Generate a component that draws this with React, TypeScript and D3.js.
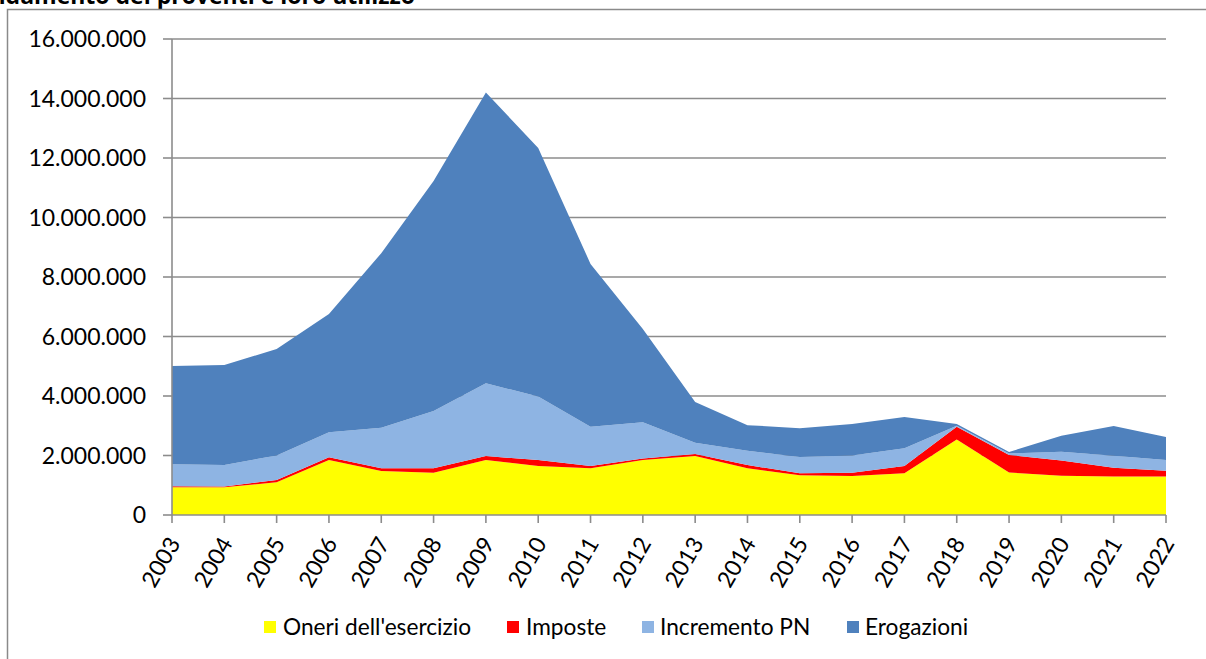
import React from 'react';
import { scaleLinear, scalePoint, stack, area, curveLinear, formatLocale } from 'd3';

const years = [2003, 2004, 2005, 2006, 2007, 2008, 2009, 2010, 2011, 2012, 2013, 2014, 2015, 2016, 2017, 2018, 2019, 2020, 2021, 2022];

// valori (in euro)
const oneri = [930000, 930000, 1100000, 1850000, 1480000, 1420000, 1850000, 1650000, 1570000, 1850000, 1980000, 1570000, 1340000, 1310000, 1400000, 2540000, 1430000, 1320000, 1290000, 1290000];
const imposte = [40000, 30000, 80000, 90000, 90000, 150000, 130000, 200000, 80000, 50000, 70000, 110000, 60000, 110000, 250000, 430000, 590000, 510000, 300000, 200000];
const incrementoPN = [740000, 720000, 820000, 840000, 1360000, 1930000, 2450000, 2130000, 1320000, 1220000, 380000, 480000, 550000, 580000, 590000, 30000, 50000, 300000, 400000, 360000];
const erogazioni = [3300000, 3360000, 3580000, 3980000, 5870000, 7730000, 9770000, 8360000, 5470000, 3130000, 1370000, 860000, 970000, 1060000, 1050000, 60000, 50000, 530000, 1000000, 770000];

const yTicks = [0, 2000000, 4000000, 6000000, 8000000, 10000000, 12000000, 14000000, 16000000];

const seriesNames = ["Oneri dell'esercizio", 'Imposte', 'Incremento PN', 'Erogazioni'];
const seriesColors = ['#FFFF00', '#FF0000', '#8EB4E3', '#4F81BD'];

const itLocale = formatLocale({ decimal: ',', thousands: '.', grouping: [3], currency: ['€', ''] });
const fmt = itLocale.format(',.0f');

const FONT = 'Lato, "Open Sans", sans-serif';

const App: React.FC = () => {
  const width = 1206;
  const height = 659;
  const left = 172;
  const right = 1166;
  const top = 39;
  const bottom = 515;

  const x = scalePoint<number>().domain(years).range([left, right]);
  const y = scaleLinear().domain([0, 16000000]).range([bottom, top]);

  const rows = years.map((yr, i) => ({
    year: yr,
    s0: oneri[i],
    s1: imposte[i],
    s2: incrementoPN[i],
    s3: erogazioni[i],
  }));
  const keys = ['s0', 's1', 's2', 's3'];
  const stacked = stack<any>().keys(keys)(rows);

  const areaGen = area<any>()
    .x(d => x(d.data.year) as number)
    .y0(d => y(d[0]))
    .y1(d => y(d[1]))
    .curve(curveLinear);

  const legendItems = [
    { sq: 264, tx: 283 },
    { sq: 507, tx: 526 },
    { sq: 642, tx: 660 },
    { sq: 847, tx: 865 },
  ];

  return (
    <svg width={width} height={height} style={{ position: 'absolute', left: 0, top: 0 }} fontFamily={FONT}>
      <rect x={0} y={0} width={width} height={height} fill="#fff" />
      <text x={415} y={4} textAnchor="end" fontWeight="bold" fontSize={23} fill="#000" fontFamily='"Open Sans", sans-serif'>
        Andamento dei proventi e loro utilizzo
      </text>
      <rect x={7.5} y={9.5} width={1400} height={800} fill="none" stroke="#8a8a8a" strokeWidth={1.5} />

      {/* griglia */}
      {yTicks.slice(1).map(t => (
        <line key={t} x1={left} x2={right} y1={y(t)} y2={y(t)} stroke="#8c8c8c" strokeWidth={1.6} />
      ))}

      {stacked.map((s, i) => (
        <path key={keys[i]} d={areaGen(s) || ''} fill={seriesColors[i]} />
      ))}

      {/* asse y */}
      <line x1={left} x2={left} y1={top} y2={bottom} stroke="#8c8c8c" strokeWidth={1.6} />
      {yTicks.map(t => (
        <g key={t}>
          <line x1={left - 9} x2={left} y1={y(t)} y2={y(t)} stroke="#8c8c8c" strokeWidth={1.6} />
          <text x={146} y={y(t)} dy="0.36em" textAnchor="end" fontSize={23} fill="#000">
            {fmt(t)}
          </text>
        </g>
      ))}

      {/* asse x */}
      <line x1={left} x2={right} y1={bottom} y2={bottom} stroke="#8c8c8c" strokeWidth={1.6} />
      {years.map(yr => (
        <g key={yr}>
          <line x1={x(yr)} x2={x(yr)} y1={bottom} y2={bottom + 8} stroke="#8c8c8c" strokeWidth={1.6} />
          <text
            transform={`translate(${(x(yr) as number) + 2},${bottom + 24}) rotate(-60)`}
            dy="0.36em"
            textAnchor="end"
            fontSize={23}
            fill="#000"
          >
            {yr}
          </text>
        </g>
      ))}

      {/* legenda */}
      {seriesNames.map((n, i) => (
        <g key={n}>
          <rect x={legendItems[i].sq} y={621} width={12} height={12} fill={seriesColors[i]} />
          <text x={legendItems[i].tx} y={627} dy="0.36em" fontSize={22.7} fill="#000">
            {n}
          </text>
        </g>
      ))}
    </svg>
  );
};

export default App;
